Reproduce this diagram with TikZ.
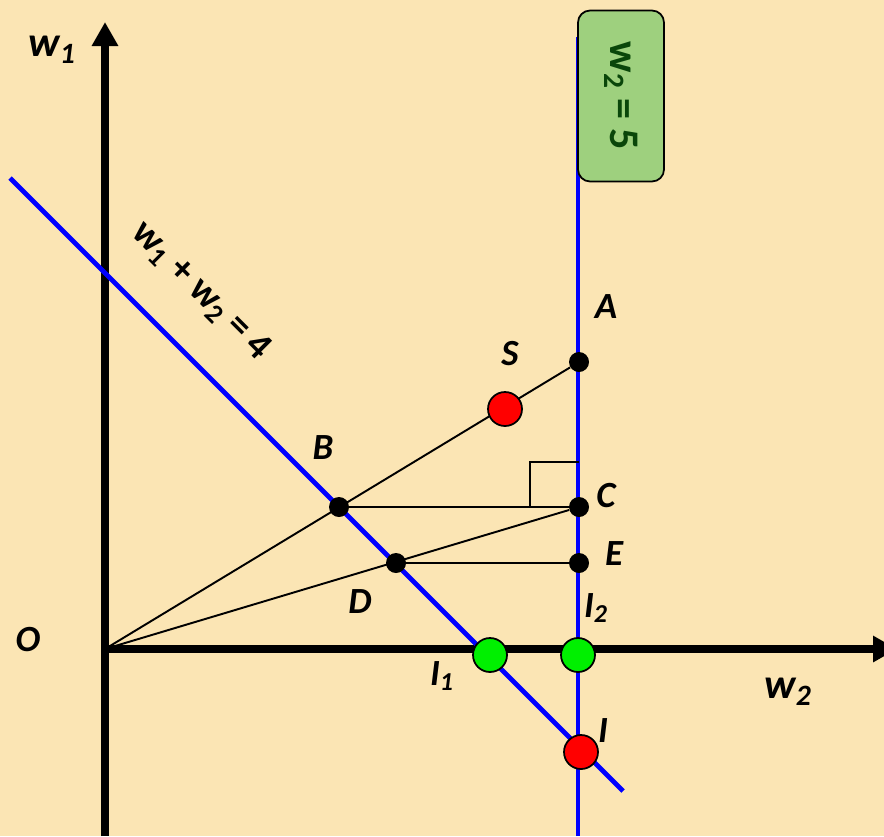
\documentclass[tikz,border=0pt]{standalone}
\usepackage{fontspec}
\setmainfont{Carlito}
\usetikzlibrary{arrows.meta}
\definecolor{paper}{RGB}{251,229,180}
\definecolor{boxgreen}{RGB}{158,208,126}
\definecolor{darkgreen}{RGB}{10,70,10}
\definecolor{dotgreen}{RGB}{0,240,0}
\pgfdeclarelayer{bg}
\pgfdeclarelayer{lines}
\pgfsetlayers{bg,lines,main}
\tikzstyle{axis} = [line width=4.5pt, -{Triangle[length=0.48cm,width=0.5cm]}]
\tikzstyle{blueline} = [blue, line width=2.8pt]
\tikzstyle{seg} = [black, line width=1.1pt]
\tikzstyle{dot} = [circle, fill=black, inner sep=0pt, minimum size=0.4cm]
\tikzstyle{bigdot} = [circle, draw=black, line width=1pt, inner sep=0pt, minimum size=0.68cm]
\tikzstyle{lab} = [font=\fontsize{21}{24}\selectfont\bfseries\itshape]
\tikzstyle{axlab} = [font=\fontsize{24}{28}\selectfont\bfseries\itshape]
\tikzstyle{eqlab} = [font=\fontsize{22}{26}\selectfont\bfseries]
\tikzstyle{eqbox} = [rectangle, rounded corners=0.24cm, minimum width=3.42cm, minimum height=1.72cm, draw=black, line width=1pt, fill=boxgreen, text=darkgreen, font=\fontsize{24}{28}\selectfont\bfseries]

\begin{document}
\begin{tikzpicture}[x=0.02cm, y=-0.02cm]
\begin{pgfonlayer}{bg}
\fill[paper] (0,0) rectangle (884,836);
\end{pgfonlayer}
\useasboundingbox (0,0) rectangle (884,836);

% points
\coordinate (O) at (105,649);
\node (ptA) [dot] at (579,362) {};
\node (ptB) [dot] at (339,507) {};
\node (ptC) [dot] at (579,507) {};
\node (ptD) [dot] at (396,563) {};
\node (ptE) [dot] at (579,563) {};
\node (ptS) [bigdot, fill=red] at (505,409) {};
\node (ptI) [bigdot, fill=red] at (581,752) {};
\node (ptI1) [bigdot, fill=dotgreen] at (490,655) {};
\node (ptI2) [bigdot, fill=dotgreen] at (578,655) {};

% constraint box
\node (box5) [eqbox, rotate=-90] at (621,96) {w\textsubscript{2} = 5};

% labels
\node (labO) [lab] at (28,640) {O};
\node (labA) [lab] at (606,307) {A};
\node (labS) [lab] at (510,354) {S};
\node (labB) [lab] at (323,448) {B};
\node (labC) [lab] at (606,496) {C};
\node (labE) [lab] at (614,554) {E};
\node (labD) [lab] at (360,602) {D};
\node (labI2) [lab] at (596,608) {I\textsubscript{2}};
\node (labI1) [lab] at (442,676) {I\textsubscript{1}};
\node (labI) [lab] at (603,731) {I};
\node (labw1) [axlab] at (52,50) {w\textsubscript{1}};
\node (labw2) [axlab] at (788,692) {w\textsubscript{2}};
\node (eq4) [eqlab, rotate=-45] at (201,291) {w\textsubscript{1} + w\textsubscript{2} = 4};

\begin{pgfonlayer}{lines}
% axes
\draw [axis] (105,836) -- (105,22);
\draw [axis] (101,649) -- (897,649);
% constraint lines
\draw [blueline] (578,37) -- (578,836);
\draw [blueline] (10,178) -- (623,791);
% segments
\draw [seg] (O) -- (ptA);
\draw [seg] (O) -- (ptC);
\draw [seg] (ptB) -- (ptC);
\draw [seg] (ptD) -- (ptE);
\draw [seg] (579,462) -- (530,462) -- (530,507);
\end{pgfonlayer}
\end{tikzpicture}
\end{document}
